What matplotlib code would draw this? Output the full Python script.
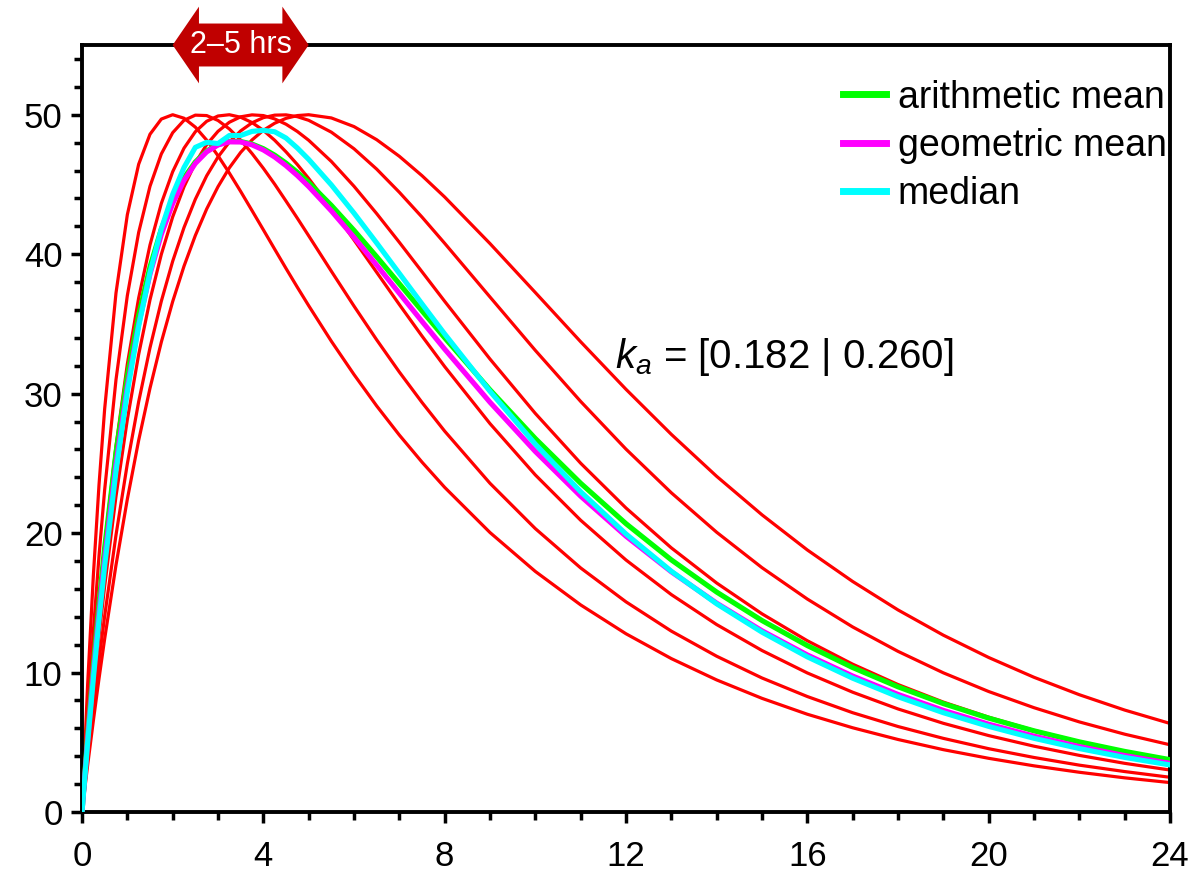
import numpy as np
import matplotlib
matplotlib.use("Agg")
import matplotlib.pyplot as plt
from matplotlib.patches import Polygon
from matplotlib.ticker import MultipleLocator

plt.rcParams['font.family'] = ['Liberation Sans', 'DejaVu Sans']
plt.rcParams['mathtext.fontset'] = 'custom'
plt.rcParams['mathtext.rm'] = 'Liberation Sans'
plt.rcParams['mathtext.it'] = 'Liberation Sans:italic'

# time after dose (hrs)
hours = [0, 0.125, 0.25, 0.375, 0.5, 0.75, 1, 1.25, 1.5, 1.75,
         2, 2.25, 2.5, 2.75, 3, 3.25, 3.5, 3.75, 4, 4.25,
         4.5, 4.75, 5, 5.5, 6, 6.5, 7, 7.5, 8, 9,
         10, 11, 12, 13, 14, 15, 16, 17, 18, 19,
         20, 21, 22, 23, 24]

# individual profiles, peaking at 2, 2.6, 3.2, 3.8, 4.4 and 5 hrs
conc_t2 = [0, 9.18, 16.93, 23.45, 28.91, 37.22, 42.83, 46.45, 48.60, 49.69,
           50.00, 49.75, 49.11, 48.18, 47.06, 45.82, 44.50, 43.13, 41.75, 40.36,
           38.98, 37.63, 36.31, 33.76, 31.37, 29.12, 27.03, 25.09, 23.28, 20.04,
           17.25, 14.85, 12.78, 11.00, 9.47, 8.15, 7.01, 6.04, 5.20, 4.47,
           3.85, 3.31, 2.85, 2.45, 2.11]
conc_t26 = [0, 6.86, 12.95, 18.35, 23.11, 31.00, 37.03, 41.56, 44.87, 47.19,
            48.71, 49.60, 49.97, 49.94, 49.59, 48.98, 48.18, 47.22, 46.16, 45.02,
            43.81, 42.58, 41.32, 38.78, 36.28, 33.86, 31.55, 29.37, 27.31, 23.57,
            20.32, 17.50, 15.07, 12.97, 11.17, 9.61, 8.28, 7.12, 6.13, 5.28,
            4.54, 3.91, 3.36, 2.90, 2.49]
conc_t32 = [0, 5.45, 10.42, 14.96, 19.09, 26.25, 32.12, 36.86, 40.66, 43.64,
            45.91, 47.60, 48.78, 49.53, 49.91, 50.00, 49.82, 49.44, 48.88, 48.17,
            47.34, 46.43, 45.43, 43.29, 41.02, 38.70, 36.39, 34.13, 31.94, 27.85,
            24.17, 20.92, 18.07, 15.59, 13.44, 11.58, 9.97, 8.59, 7.39, 6.36,
            5.48, 4.72, 4.06, 3.49, 3.01]
conc_t38 = [0, 4.51, 8.70, 12.59, 16.20, 22.64, 28.14, 32.81, 36.73, 39.99,
            42.67, 44.83, 46.54, 47.86, 48.81, 49.46, 49.85, 49.99, 49.94, 49.70,
            49.32, 48.80, 48.17, 46.65, 44.87, 42.91, 40.85, 38.74, 36.62, 32.48,
            28.58, 25.01, 21.80, 18.94, 16.42, 14.21, 12.28, 10.60, 9.14, 7.88,
            6.80, 5.85, 5.04, 4.34, 3.74]
conc_t44 = [0, 3.84, 7.45, 10.85, 14.05, 19.86, 24.97, 29.42, 33.29, 36.63,
            39.49, 41.91, 43.94, 45.62, 46.97, 48.04, 48.84, 49.42, 49.79, 49.97,
            49.99, 49.86, 49.60, 48.75, 47.56, 46.10, 44.44, 42.66, 40.78, 36.93,
            33.10, 29.44, 26.02, 22.89, 20.06, 17.52, 15.27, 13.27, 11.52, 9.98,
            8.64, 7.48, 6.46, 5.58, 4.82]
conc_t5 = [0, 3.36, 6.54, 9.56, 12.42, 17.71, 22.43, 26.65, 30.39, 33.70,
           36.60, 39.14, 41.34, 43.24, 44.84, 46.19, 47.30, 48.19, 48.88, 49.39,
           49.74, 49.94, 50.00, 49.77, 49.15, 48.21, 47.02, 45.63, 44.10, 40.76,
           37.25, 33.72, 30.31, 27.08, 24.07, 21.31, 18.79, 16.53, 14.49, 12.68,
           11.08, 9.66, 8.41, 7.31, 6.35]

peak_window = (2, 5)
ka_text = r'$k_a$ = [0.182 | 0.260]'

profiles = np.array([conc_t2, conc_t26, conc_t32, conc_t38, conc_t44, conc_t5])
arith = profiles.mean(axis=0)
with np.errstate(divide='ignore'):
    geo = np.exp(np.log(profiles).mean(axis=0))
med = np.median(profiles, axis=0)

fig = plt.figure(figsize=(11.94, 8.82), dpi=100)
ax = fig.add_axes([82 / 1194, 1 - 812 / 882, 1088 / 1194, 767 / 882])

for p in profiles:
    ax.plot(hours, p, color='#ff0000', lw=2.3, zorder=2)
ax.plot(hours, arith, color='#00ff00', lw=3.7, label='arithmetic mean', zorder=3)
ax.plot(hours, geo, color='#ff00ff', lw=3.7, label='geometric mean', zorder=4)
ax.plot(hours, med, color='#00ffff', lw=3.7, label='median', zorder=5)

ax.set_xlim(0, 24)
ax.set_ylim(0, 55)
ax.xaxis.set_major_locator(MultipleLocator(4))
ax.xaxis.set_minor_locator(MultipleLocator(1))
ax.yaxis.set_major_locator(MultipleLocator(10))
ax.yaxis.set_minor_locator(MultipleLocator(2))
ax.tick_params(which='both', direction='out', width=2.5, labelsize=25)
ax.tick_params(which='major', length=8)
ax.tick_params(which='minor', length=5.5)
ax.tick_params(axis='x', pad=12)
ax.tick_params(axis='y', pad=6)
for s in ax.spines.values():
    s.set_linewidth(2.8)

ax.text(11.75, 32.6, ka_text, fontsize=29, va='center', ha='left')

leg = ax.legend(loc='upper right', bbox_to_anchor=(0.997, 0.955), frameon=False,
                fontsize=27, handlelength=1.15, handletextpad=0.32,
                labelspacing=0.33, borderaxespad=0, borderpad=0)
for h in leg.get_lines():
    h.set_linewidth(5)

# double arrow marking the window of peak times
tr = ax.get_xaxis_transform()
x0, x1 = peak_window
hl = 0.58
bh, hh = 0.028, 0.05
arrow = Polygon([(x0, 1), (x0 + hl, 1 + hh), (x0 + hl, 1 + bh), (x1 - hl, 1 + bh),
                 (x1 - hl, 1 + hh), (x1, 1), (x1 - hl, 1 - hh), (x1 - hl, 1 - bh),
                 (x0 + hl, 1 - bh), (x0 + hl, 1 - hh)],
                closed=True, transform=tr, facecolor='#c00000', edgecolor='none',
                clip_on=False, zorder=10)
ax.add_patch(arrow)
ax.text((x0 + x1) / 2, 1.0, '2\u20135 hrs', transform=tr, ha='center', va='center',
        color='white', fontsize=22, zorder=11, clip_on=False)

fig.savefig('out.png', dpi=100)
